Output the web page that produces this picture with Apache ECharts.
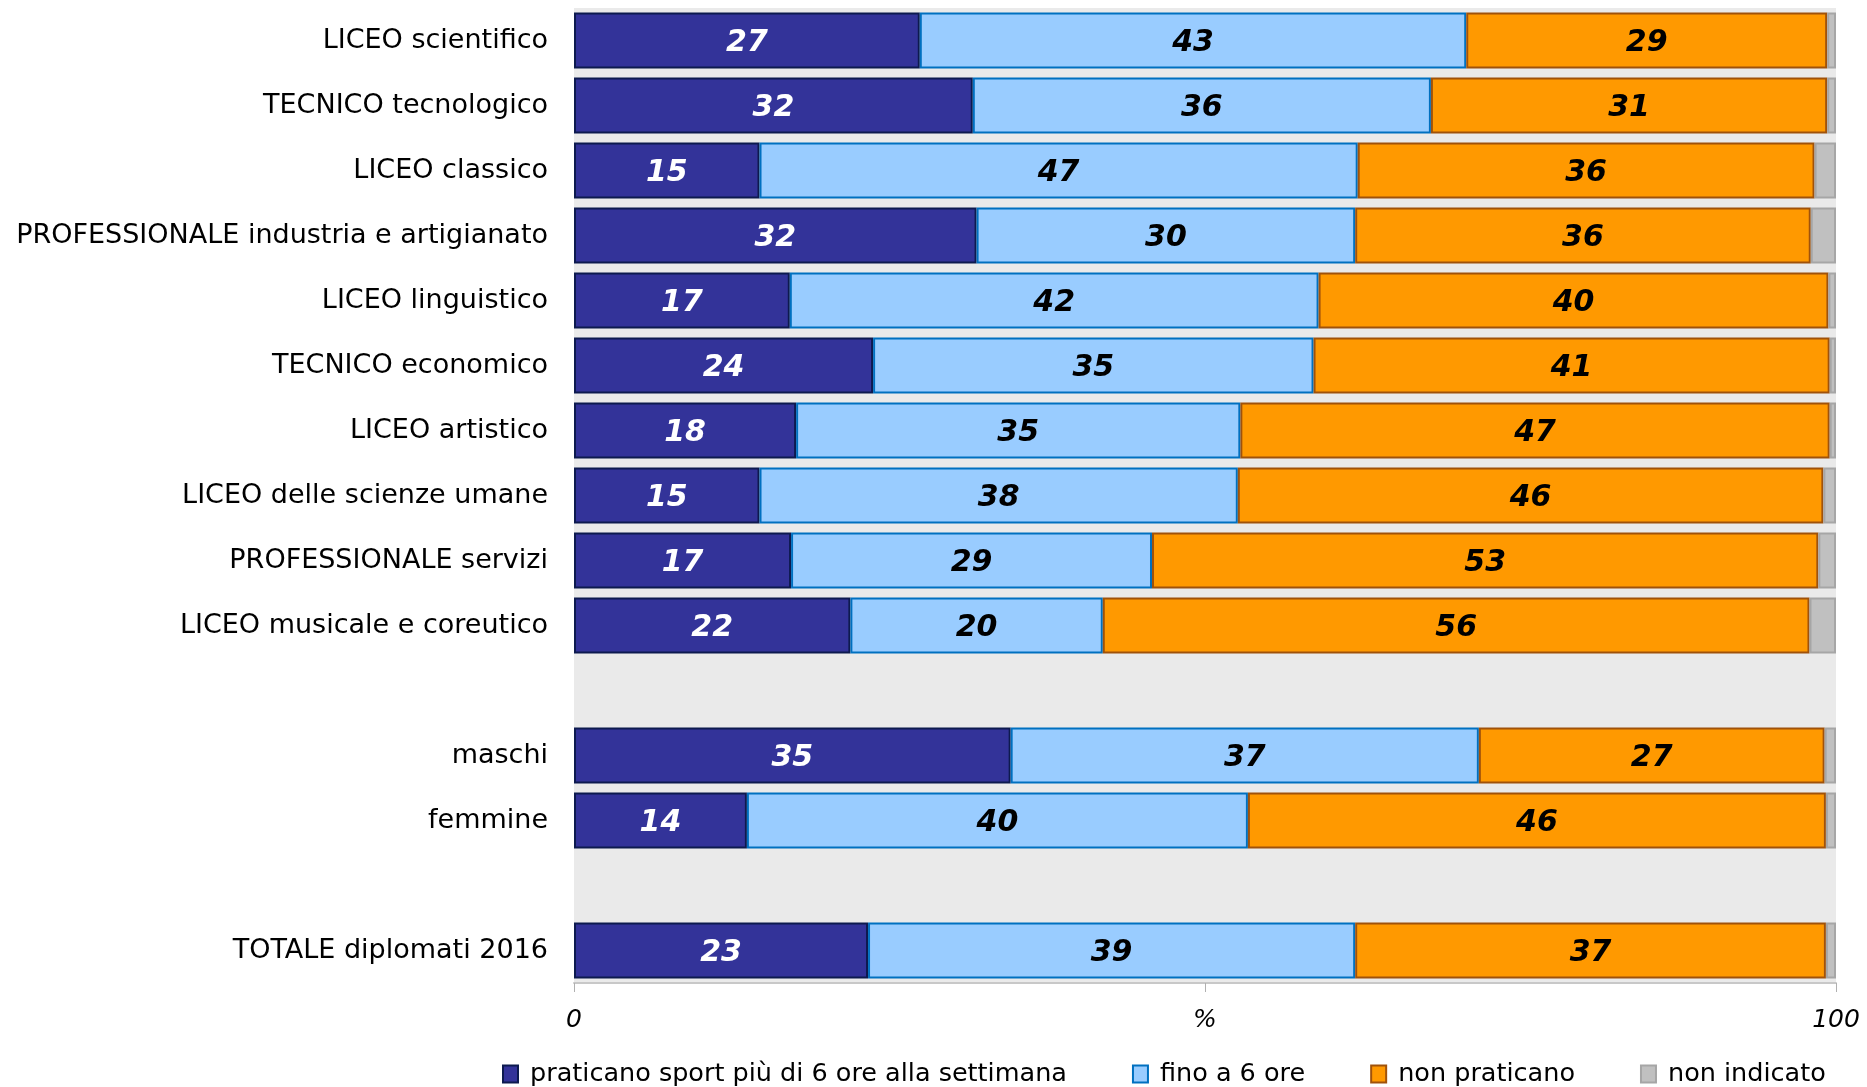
<!DOCTYPE html>
<html>
<head>
<meta charset="utf-8">
<script src="https://cdn.jsdelivr.net/npm/echarts@6/dist/echarts.min.js"></script>
<style>
html,body{margin:0;padding:0;background:#fff;}
#chart{width:1867px;height:1087px;}
</style>
</head>
<body>
<div id="chart"></div>
<script>
const categories = ['LICEO scientifico','TECNICO tecnologico','LICEO classico','PROFESSIONALE industria e artigianato','LICEO linguistico','TECNICO economico','LICEO artistico','LICEO delle scienze umane','PROFESSIONALE servizi','LICEO musicale e coreutico',' ','maschi','femmine','  ','TOTALE diplomati 2016'];
const seriesNames = ['praticano sport più di 6 ore alla settimana','fino a 6 ore','non praticano','non indicato'];
const oltre6 = [27.4,31.6,14.7,31.9,17.1,23.7,17.6,14.7,17.2,21.9,null,34.6,13.7,null,23.3];
const fino6 = [43.3,36.3,47.4,30.0,41.9,34.9,35.2,37.9,28.6,20.0,null,37.1,39.7,null,38.6];
const nonPraticano = [28.6,31.4,36.2,36.1,40.4,40.9,46.7,46.4,52.8,56.0,null,27.4,45.8,null,37.3];
const nonIndicato = [0.7,0.7,1.7,2.0,0.6,0.5,0.5,1.0,1.4,2.1,null,0.9,0.8,null,0.8];
const xTicks = {0:'0',50:'%',100:'100'};

const FONT = 'DejaVu Sans';
const colors = ['#333399','#99CCFF','#FF9900','#C0C0C0'];
const borders = ['#0D1A4F','#0070C0','#A0520A','#A6A6A6'];
const labelColors = ['#ffffff','#000000','#000000',null];
const dataSets = [oltre6, fino6, nonPraticano, nonIndicato];

const series = dataSets.map((d,i)=>({
  name: seriesNames[i],
  type: 'bar',
  stack: 'tot',
  data: d,
  barCategoryGap: '14%',
  itemStyle: {color: colors[i], borderColor: borders[i], borderWidth: 2},
  label: labelColors[i] ? {
    show: true, position: 'inside', color: labelColors[i], offset: [0, 3],
    fontFamily: FONT, fontWeight: 'bold', fontStyle: 'italic', fontSize: 30,
    formatter: p => Math.round(p.value)
  } : {show:false},
  emphasis: {disabled: true}
}));

const chart = echarts.init(document.getElementById('chart'), null, {renderer:'canvas'});
chart.setOption({
  animation: false,
  backgroundColor: '#ffffff',
  grid: {left: 574, right: 31, top: 8, bottom: 104, show: true, backgroundColor: '#EAEAEA', borderWidth: 0, containLabel: false},
  xAxis: {
    type: 'value', min: 0, max: 100, interval: 50,
    axisLine: {show: true, lineStyle: {color: '#C8C8C8', width: 2}},
    axisTick: {show: true, length: 9, lineStyle: {color: '#B0B0B0', width: 1}},
    splitLine: {show: false},
    axisLabel: {fontFamily: FONT, fontStyle: 'italic', fontSize: 25, color: '#000', margin: 25,
      formatter: v => (xTicks[v] !== undefined ? xTicks[v] : '')}
  },
  yAxis: {
    type: 'category', inverse: true, data: categories,
    axisLine: {show: false}, axisTick: {show: false}, splitLine: {show: false},
    axisLabel: {fontFamily: FONT, fontSize: 27, color: '#000', margin: 26, padding: [6,0,0,0]}
  },
  legend: {
    left: 497, top: 1056, itemWidth: 15, itemHeight: 17, itemGap: 65,
    icon: 'rect',
    textStyle: {fontFamily: FONT, fontSize: 25.5, color: '#000', padding: [0,0,0,7]},
    data: seriesNames
  },
  series: series
});
</script>
</body>
</html>
